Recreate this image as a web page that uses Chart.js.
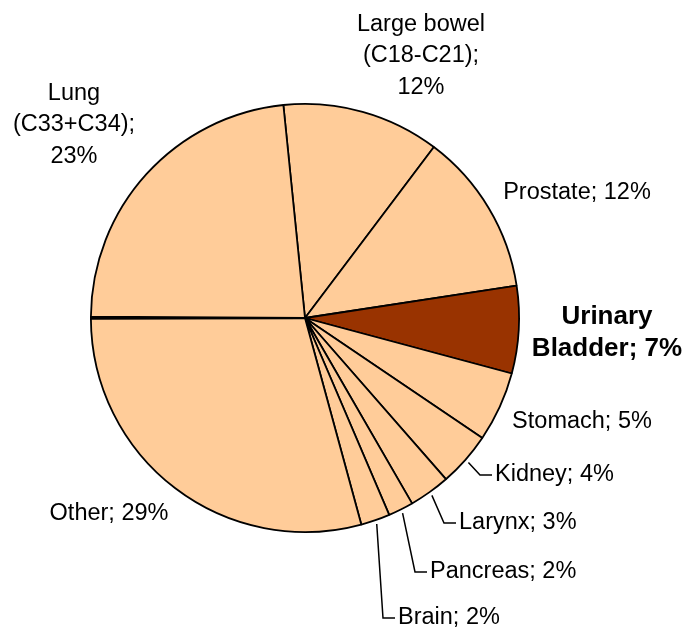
<!DOCTYPE html>
<html>
<head>
<meta charset="utf-8">
<script src="https://cdn.jsdelivr.net/npm/chart.js@4.4.1/dist/chart.umd.min.js"></script>
<style>
  html, body { margin: 0; padding: 0; background: #fff; }
  #wrap { width: 686px; height: 630px; position: relative; }
</style>
</head>
<body>
<div id="wrap"><canvas id="cancerPie"></canvas></div>
<script>
// slices, clockwise from the Lung / Large bowel border
const sites = ['Large bowel\n(C18-C21)', 'Prostate', 'Urinary\nBladder', 'Stomach', 'Kidney',
  'Larynx', 'Pancreas', 'Brain', 'Other', '', 'Lung\n(C33+C34)'];
const shares = [11.9, 12.3, 6.6, 5.3, 4.1, 3.1, 1.9, 2.2, 29.2, 0.15, 23.3];
const highlight = 'Urinary\nBladder';

const peach = '#FFCC99';
const brown = '#993300';

// where each label sits, relative to the pie centre
const labelLayout = [
  { dx: 116, dy: -262, align: 'center', pctLine: true },
  { dx: 272, dy: -125, align: 'center' },
  { dx: 302, dy: 15, align: 'center', bold: true },
  { dx: 277, dy: 104, align: 'center' },
  { dx: 190, dy: 157, align: 'left', leader: true },
  { dx: 154, dy: 205, align: 'left', leader: true },
  { dx: 125, dy: 254, align: 'left', leader: true },
  { dx: 93, dy: 300, align: 'left', leader: true },
  { dx: -196, dy: 196, align: 'center' },
  null,
  { dx: -231, dy: -193, align: 'center', pctLine: true }
];

const sliceLabels = {
  id: 'sliceLabels',
  afterDatasetsDraw(chart) {
    const ctx = chart.ctx;
    const arcs = chart.getDatasetMeta(0).data;
    ctx.save();
    ctx.fillStyle = '#000';
    ctx.strokeStyle = '#000';
    ctx.lineWidth = 1.5;
    ctx.textBaseline = 'middle';
    arcs.forEach((arc, i) => {
      const lay = labelLayout[i];
      if (!lay) return;
      const p = arc.getProps(['x', 'y', 'startAngle', 'endAngle', 'outerRadius'], true);
      const pct = Math.round(shares[i]) + '%';
      const text = sites[i] + (lay.pctLine ? ';\n' : '; ') + pct;
      const lines = text.split('\n');
      const tx = p.x + lay.dx;
      const ty = p.y + lay.dy;
      const lh = 31.5;
      ctx.font = lay.bold ? 'bold 26px "Liberation Sans", Arial, sans-serif' : '23.5px "Liberation Sans", Arial, sans-serif';
      ctx.textAlign = lay.align;
      lines.forEach((ln, k) => {
        ctx.fillText(ln, tx, ty + (k - (lines.length - 1) / 2) * lh);
      });
      if (lay.leader) {
        const mid = (p.startAngle + p.endAngle) / 2;
        const r = p.outerRadius + 4;
        ctx.beginPath();
        ctx.moveTo(p.x + Math.cos(mid) * r, p.y + Math.sin(mid) * r);
        ctx.lineTo(tx - 15, ty);
        ctx.lineTo(tx - 3, ty);
        ctx.stroke();
      }
    });
    ctx.restore();
  }
};

new Chart(document.getElementById('cancerPie'), {
  type: 'pie',
  data: {
    labels: sites,
    datasets: [{
      data: shares,
      backgroundColor: sites.map(s => s === highlight ? brown : peach),
      borderColor: '#000',
      borderWidth: 1.8
    }]
  },
  options: {
    responsive: true,
    maintainAspectRatio: false,
    animation: false,
    rotation: -5.8,
    layout: { padding: { left: 90, right: 166, top: 103, bottom: 97 } },
    plugins: {
      legend: { display: false },
      tooltip: { enabled: false }
    }
  },
  plugins: [sliceLabels]
});
</script>
</body>
</html>
